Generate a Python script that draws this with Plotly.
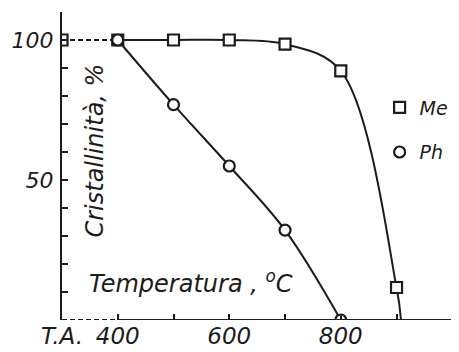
import plotly.graph_objects as go

# ---- data ----
TA_POS = 300                     # axis position used for "T.A." (room temperature)
me_temp = [TA_POS, 400, 500, 600, 700, 800, 900]
me_cryst = [100, 100, 100, 100, 98.5, 89, 11.6]
me_curve_end = (908, 0)          # where the Me curve meets the axis

ph_temp = [400, 500, 600, 700, 800]
ph_cryst = [100, 76.9, 55.0, 32.1, 0]

x_tickvals = [300, 400, 600, 800]
x_ticktext = ["T.A.", "400", "600", "800"]
x_minor_ticks = [500, 700, 900]
y_tickvals = [50, 100]
y_ticktext = ["50", "100"]
y_minor_ticks = [10, 20, 30, 40, 60, 70, 80, 90]

x_range = [300, 1012]
y_range = [0, 110]

INK = "#1c1c1c"
FONT = "DejaVu Sans"

fig = go.Figure()

# dashed Me segment from T.A. to 400
fig.add_trace(go.Scatter(x=me_temp[:2], y=me_cryst[:2], mode="lines",
                         line=dict(color=INK, width=2, dash="5px,3px"),
                         showlegend=False, hoverinfo="skip"))
# Me smooth curve
fig.add_trace(go.Scatter(x=me_temp[1:] + [me_curve_end[0]],
                         y=me_cryst[1:] + [me_curve_end[1]], mode="lines",
                         line=dict(color=INK, width=2, shape="spline", smoothing=1.0),
                         showlegend=False, hoverinfo="skip"))
# Ph smooth curve
fig.add_trace(go.Scatter(x=ph_temp, y=ph_cryst, mode="lines",
                         line=dict(color=INK, width=2, shape="spline", smoothing=1.0),
                         showlegend=False, hoverinfo="skip"))
# markers
fig.add_trace(go.Scatter(x=me_temp, y=me_cryst, mode="markers", name="Me",
                         marker=dict(symbol="square", size=11, color="white",
                                     line=dict(color=INK, width=2.2)),
                         legend="legend"))
fig.add_trace(go.Scatter(x=ph_temp, y=ph_cryst, mode="markers", name="Ph",
                         marker=dict(symbol="circle", size=11, color="white",
                                     line=dict(color=INK, width=2.2)),
                         legend="legend2"))

# x axis line: dashed between T.A. and 400, solid afterwards
fig.add_shape(type="line", xref="x", yref="y", x0=x_tickvals[0], x1=x_tickvals[1],
              y0=0, y1=0, line=dict(color=INK, width=2, dash="5px,3px"))
fig.add_shape(type="line", xref="x", yref="y", x0=x_tickvals[1], x1=x_range[1],
              y0=0, y1=0, line=dict(color=INK, width=2))

tick_style = dict(ticks="inside", ticklen=6, tickwidth=1.5, tickcolor=INK)

# the page body has an 8px margin, so the figure is sized/offset to compensate
fig.update_layout(
    width=451, height=344,
    margin=dict(l=54, r=0, t=4, b=32),
    paper_bgcolor="white", plot_bgcolor="white",
    font=dict(family=FONT, color=INK),
    xaxis=dict(range=x_range, tickmode="array", tickvals=x_tickvals, ticktext=x_ticktext,
               **tick_style,
               minor=dict(tickmode="array", tickvals=x_minor_ticks, **tick_style),
               showline=False, showgrid=False, zeroline=False,
               tickfont=dict(family=FONT, size=23, style="italic", color=INK)),
    yaxis=dict(range=y_range, tickmode="array", tickvals=y_tickvals, ticktext=y_ticktext,
               **tick_style,
               minor=dict(tickmode="array", tickvals=y_minor_ticks, **tick_style),
               showline=True, linecolor=INK, linewidth=2,
               showgrid=False, zeroline=False, ticklabelstandoff=2,
               tickfont=dict(family=FONT, size=22, style="italic", color=INK)),
    legend=dict(x=0.80, y=0.69, xanchor="left", yanchor="middle",
                bgcolor="rgba(0,0,0,0)",
                font=dict(family=FONT, size=19, style="italic", color=INK)),
    legend2=dict(x=0.80, y=0.545, xanchor="left", yanchor="middle",
                 bgcolor="rgba(0,0,0,0)",
                 font=dict(family=FONT, size=19, style="italic", color=INK)),
    showlegend=True,
)

fig.add_annotation(text="Cristallinità, %", xref="paper", yref="paper",
                   x=0.083, y=0.55, xanchor="center", yanchor="middle",
                   textangle=-90, showarrow=False,
                   font=dict(family=FONT, size=24, style="italic", color=INK))
fig.add_annotation(text="Temperatura , <sup>o</sup>C", xref="paper", yref="paper",
                   x=0.063, y=0.125, xanchor="left", yanchor="middle", showarrow=False,
                   font=dict(family=FONT, size=24, style="italic", color=INK))

fig.write_html("out.html")
